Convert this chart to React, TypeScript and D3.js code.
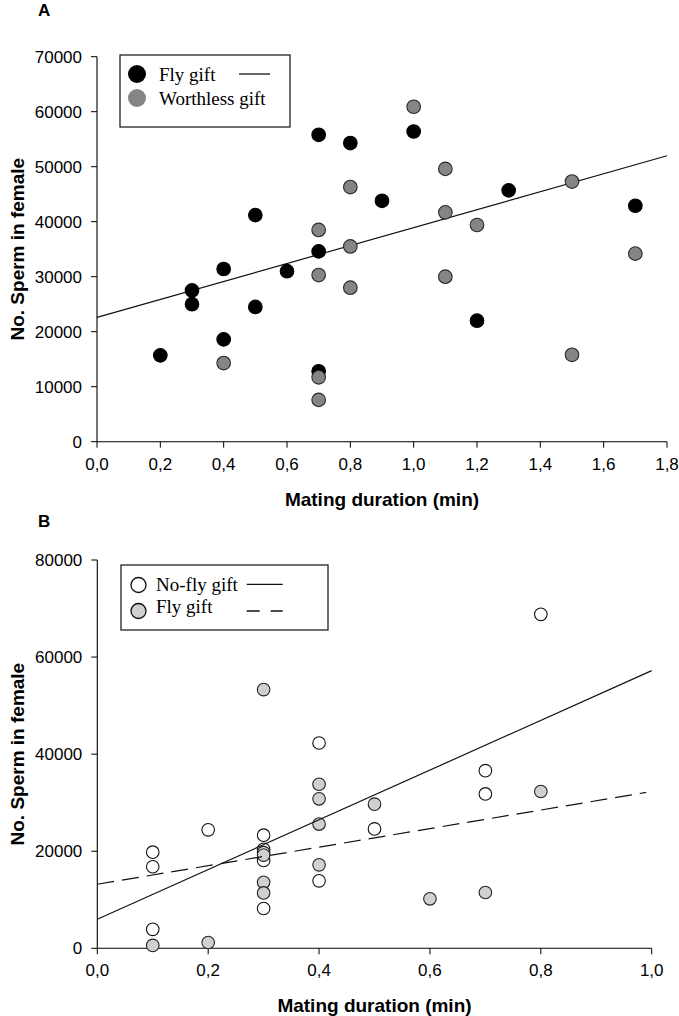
import React, { useEffect, useRef } from "react";
import * as d3 from "d3";

// ---- panel A data: mating duration (min) vs sperm count ----
const flyGiftA = [
  [0.2, 15700], [0.3, 27500], [0.3, 25000], [0.4, 31400], [0.4, 18600],
  [0.5, 41200], [0.5, 24500], [0.6, 31000], [0.7, 55800], [0.7, 34600],
  [0.7, 12800], [0.8, 54300], [0.9, 43800], [1.0, 56400], [1.2, 22000],
  [1.3, 45700], [1.7, 42900],
];
const worthlessGiftA = [
  [0.4, 14300], [0.7, 38500], [0.7, 30300], [0.7, 11700], [0.7, 7600],
  [0.8, 46300], [0.8, 35500], [0.8, 28000], [1.0, 60900], [1.1, 49600],
  [1.1, 41700], [1.1, 30000], [1.2, 39400], [1.5, 47300], [1.5, 15800],
  [1.7, 34200],
];
const fitA = { intercept: 22600, slope: 16330, x0: 0, x1: 1.8 };
const xTicksA = [0, 0.2, 0.4, 0.6, 0.8, 1.0, 1.2, 1.4, 1.6, 1.8];
const yTicksA = [0, 10000, 20000, 30000, 40000, 50000, 60000, 70000];

// ---- panel B data ----
const noFlyGiftB = [
  [0.1, 19800], [0.1, 16800], [0.1, 3900], [0.2, 24400], [0.3, 23300],
  [0.3, 20400], [0.3, 19700], [0.3, 18100], [0.3, 8200], [0.4, 42300],
  [0.4, 13900], [0.5, 24600], [0.7, 36600], [0.7, 31800], [0.8, 68800],
];
const flyGiftB = [
  [0.1, 600], [0.2, 1200], [0.3, 53300], [0.3, 19200], [0.3, 13600],
  [0.3, 11400], [0.4, 33800], [0.4, 30800], [0.4, 25600], [0.4, 17200],
  [0.5, 29700], [0.6, 10200], [0.7, 11500], [0.8, 32300],
];
const fitNoFlyB = { intercept: 6000, slope: 51200, x0: 0, x1: 1.0 };
const fitFlyB = { intercept: 13200, slope: 19100, x0: 0, x1: 0.99 };
const xTicksB = [0, 0.2, 0.4, 0.6, 0.8, 1.0];
const yTicksB = [0, 20000, 40000, 60000, 80000];

const sans = "'Liberation Sans', Arial, sans-serif";
const serif = "'Liberation Serif', 'Times New Roman', serif";

function App() {
  const ref = useRef(null);

  useEffect(() => {
    const svg = d3.select(ref.current);
    svg.selectAll("*").remove();

    const fmt = (v) => d3.format(".1f")(v).replace(".", ",");

    const drawAxes = (g, x, y, xTicks, yTicks, letter, letterY) => {
      const [x0, x1] = x.range();
      const [yb, yt] = y.range();

      g.append("line").attr("x1", x0).attr("x2", x1).attr("y1", yb).attr("y2", yb)
        .attr("stroke", "#000").attr("stroke-width", 1.1);
      g.append("line").attr("x1", x0).attr("x2", x0).attr("y1", yb).attr("y2", yt)
        .attr("stroke", "#000").attr("stroke-width", 1.1);

      xTicks.forEach((t) => {
        g.append("line").attr("x1", x(t)).attr("x2", x(t)).attr("y1", yb).attr("y2", yb + 6)
          .attr("stroke", "#000");
        g.append("text").attr("x", x(t)).attr("y", yb + 28).attr("text-anchor", "middle")
          .attr("font-family", sans).attr("font-size", 17).text(fmt(t));
      });
      yTicks.forEach((t) => {
        g.append("line").attr("x1", x0 - 6).attr("x2", x0).attr("y1", y(t)).attr("y2", y(t))
          .attr("stroke", "#000");
        g.append("text").attr("x", x0 - 15).attr("y", y(t)).attr("dy", "0.36em")
          .attr("text-anchor", "end").attr("font-family", sans).attr("font-size", 17).text(t);
      });

      g.append("text").attr("x", (x0 + x1) / 2).attr("y", yb + 64).attr("text-anchor", "middle")
        .attr("font-family", sans).attr("font-weight", "bold").attr("font-size", 19)
        .text("Mating duration (min)");
      g.append("text")
        .attr("transform", `translate(24,${(yb + yt) / 2}) rotate(-90)`)
        .attr("text-anchor", "middle").attr("font-family", sans).attr("font-weight", "bold")
        .attr("font-size", 19).text("No. Sperm in female");
      g.append("text").attr("x", 38).attr("y", letterY).attr("font-family", sans)
        .attr("font-weight", "bold").attr("font-size", 17).text(letter);
    };

    const fitLine = (g, x, y, fit, dash) => {
      g.append("line")
        .attr("x1", x(fit.x0)).attr("y1", y(fit.intercept + fit.slope * fit.x0))
        .attr("x2", x(fit.x1)).attr("y2", y(fit.intercept + fit.slope * fit.x1))
        .attr("stroke", "#111").attr("stroke-width", 1.2)
        .attr("stroke-dasharray", dash || null);
    };

    const dots = (g, x, y, data, r, fill, stroke) => {
      g.selectAll(null).data(data).enter().append("circle")
        .attr("cx", (d) => x(d[0])).attr("cy", (d) => y(d[1])).attr("r", r)
        .attr("fill", fill).attr("stroke", stroke).attr("stroke-width", 1.1);
    };

    // ---------- panel A ----------
    const xA = d3.scaleLinear().domain([0, 1.8]).range([97, 667]);
    const yA = d3.scaleLinear().domain([0, 70000]).range([441.7, 56.7]);
    const gA = svg.append("g");
    drawAxes(gA, xA, yA, xTicksA, yTicksA, "A", 16);
    fitLine(gA, xA, yA, fitA);
    dots(gA, xA, yA, flyGiftA, 6.8, "#000", "#000");
    dots(gA, xA, yA, worthlessGiftA, 6.8, "#858585", "#2a2a2a");

    // legend A
    const lA = gA.append("g");
    lA.append("rect").attr("x", 120).attr("y", 55).attr("width", 170).attr("height", 72)
      .attr("fill", "#fff").attr("stroke", "#222").attr("stroke-width", 1.3);
    lA.append("circle").attr("cx", 137).attr("cy", 74).attr("r", 9).attr("fill", "#000");
    lA.append("circle").attr("cx", 137).attr("cy", 98).attr("r", 9).attr("fill", "#858585");
    lA.append("text").attr("x", 159).attr("y", 81).attr("font-family", serif).attr("font-size", 19)
      .text("Fly gift");
    lA.append("text").attr("x", 159).attr("y", 105).attr("font-family", serif).attr("font-size", 19)
      .text("Worthless gift");
    lA.append("line").attr("x1", 239).attr("x2", 270).attr("y1", 74).attr("y2", 74)
      .attr("stroke", "#111").attr("stroke-width", 1.3);

    // ---------- panel B ----------
    const xB = d3.scaleLinear().domain([0, 1.0]).range([97.3, 651.7]);
    const yB = d3.scaleLinear().domain([0, 80000]).range([948.3, 560]);
    const gB = svg.append("g");
    drawAxes(gB, xB, yB, xTicksB, yTicksB, "B", 527);
    dots(gB, xB, yB, noFlyGiftB, 6.3, "#fff", "#111");
    dots(gB, xB, yB, flyGiftB, 6.3, "#d0d0d0", "#222");
    fitLine(gB, xB, yB, fitNoFlyB);
    fitLine(gB, xB, yB, fitFlyB, "17,8");

    // legend B
    const lB = gB.append("g");
    lB.append("rect").attr("x", 121).attr("y", 565).attr("width", 207).attr("height", 65)
      .attr("fill", "#fff").attr("stroke", "#222").attr("stroke-width", 1.3);
    lB.append("circle").attr("cx", 138.5).attr("cy", 585).attr("r", 7.5)
      .attr("fill", "#fff").attr("stroke", "#111").attr("stroke-width", 1.3);
    lB.append("circle").attr("cx", 138.5).attr("cy", 611).attr("r", 7.5)
      .attr("fill", "#d0d0d0").attr("stroke", "#111").attr("stroke-width", 1.3);
    lB.append("text").attr("x", 156).attr("y", 591).attr("font-family", serif).attr("font-size", 19)
      .text("No-fly gift");
    lB.append("text").attr("x", 156).attr("y", 613).attr("font-family", serif).attr("font-size", 19)
      .text("Fly gift");
    lB.append("line").attr("x1", 246.7).attr("x2", 282.7).attr("y1", 584.3).attr("y2", 584.3)
      .attr("stroke", "#111").attr("stroke-width", 1.3);
    lB.append("line").attr("x1", 246.7).attr("x2", 282.7).attr("y1", 611).attr("y2", 611)
      .attr("stroke", "#111").attr("stroke-width", 1.3).attr("stroke-dasharray", "13,11");
  }, []);

  return (
    <svg
      ref={ref}
      width={679}
      height={1016}
      style={{ position: "absolute", left: 0, top: 0, background: "#fff" }}
    />
  );
}

export default App;
